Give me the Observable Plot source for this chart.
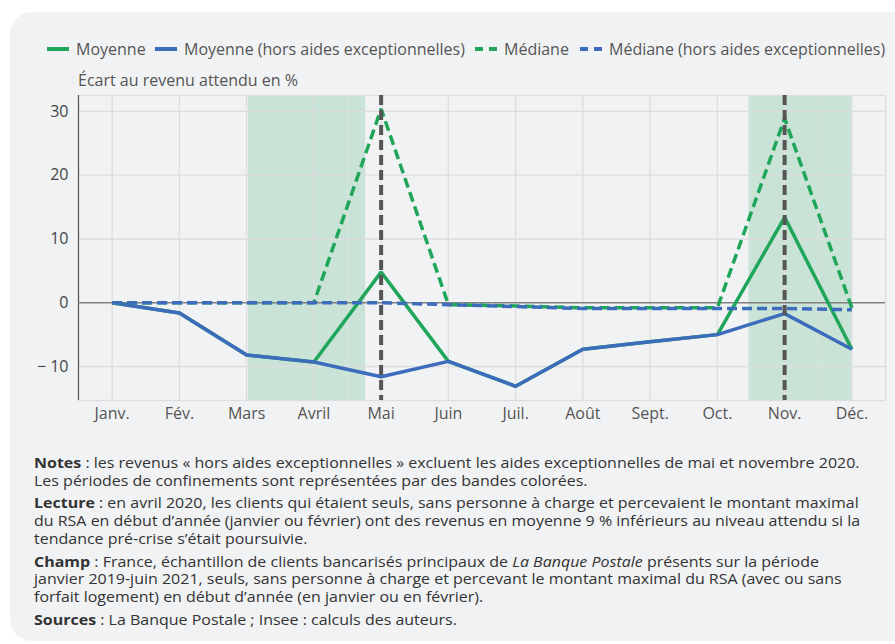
<!DOCTYPE html>
<html><head><meta charset="utf-8">
<script src="https://cdn.jsdelivr.net/npm/d3@7"></script>
<script src="https://cdn.jsdelivr.net/npm/@observablehq/plot@0.6"></script>
<style>
body{margin:0;background:#fff;font-family:"Open Sans",sans-serif;width:895px;height:644px;overflow:hidden;position:relative}
#panel{position:absolute;left:10px;top:12px;width:920px;height:629px;background:#f1f2f4;border-radius:22px}
.leg{position:absolute;top:38px;font-size:16px;color:#555;white-space:nowrap;display:flex;align-items:center;height:22px}
.sw{display:inline-block;width:22px;height:0;border-top:4px solid;margin-right:7px}
.swd{display:inline-block;width:22px;height:4px;margin-right:7px}
#ytitle{position:absolute;left:78px;top:69px;font-size:16px;color:#555;white-space:nowrap}
#chart{position:absolute;left:0;top:88px}
#notes{position:absolute;left:34px;top:454px;font-size:14px;color:#333;line-height:17.9px;white-space:nowrap;transform:scaleX(1.142);transform-origin:0 0}
#notes p{margin:0 0 4.5px 0}
</style></head><body>
<div id="panel"></div>
<div id="legend"></div>
<div id="ytitle">Écart au revenu attendu en %</div>
<div id="chart"></div>
<div id="notes">
<p><b>Notes</b> : les revenus « hors aides exceptionnelles » excluent les aides exceptionnelles de mai et novembre 2020.<br>Les périodes de confinements sont représentées par des bandes colorées.</p>
<p><b>Lecture</b> : en avril 2020, les clients qui étaient seuls, sans personne à charge et percevaient le montant maximal<br>du RSA en début d’année (janvier ou février) ont des revenus en moyenne 9 % inférieurs au niveau attendu si la<br>tendance pré-crise s’était poursuivie.</p>
<p><b>Champ</b> : France, échantillon de clients bancarisés principaux de <i>La Banque Postale</i> présents sur la période<br>janvier 2019-juin 2021, seuls, sans personne à charge et percevant le montant maximal du RSA (avec ou sans<br>forfait logement) en début d’année (en janvier ou en février).</p>
<p><b>Sources</b> : La Banque Postale ; Insee : calculs des auteurs.</p>
</div>
<script>
const months = ["Janv.","Fév.","Mars","Avril","Mai","Juin","Juil.","Août","Sept.","Oct.","Nov.","Déc."];
const moyenne      = [0, -1.6, -8.2, -9.3, 4.8, -9.2, -13.1, -7.3, -6.1, -5.0, 13.4, -7.3];
const moyenneHors  = [0, -1.6, -8.2, -9.3, -11.6, -9.2, -13.1, -7.3, -6.1, -5.0, -1.7, -7.3];
const mediane      = [0, 0, 0, 0, 30.4, -0.3, -0.5, -0.8, -0.8, -0.8, 28.9, -0.8];
const medianeHors  = [0, 0, 0, 0, 0, -0.3, -0.6, -0.9, -0.9, -0.9, -0.9, -1.1];
const confinements = [{start: 2.03, end: 3.77}, {start: 9.47, end: 11.0}];
const aidesMonths = [4, 10];
const yTicks = [-10, 0, 10, 20, 30];

const GREEN = "#1fa65a", BLUE = "#3c6cbb";
const series = [
  {name: "Moyenne", values: moyenne, color: GREEN, dash: null},
  {name: "Moyenne (hors aides exceptionnelles)", values: moyenneHors, color: BLUE, dash: null},
  {name: "Médiane", values: mediane, color: GREEN, dash: "10,5"},
  {name: "Médiane (hors aides exceptionnelles)", values: medianeHors, color: BLUE, dash: "10,5"}
];
const rows = s => s.values.map((v, i) => ({i, v}));

// legend
const legX = [47, 155, 475, 580];
const leg = document.getElementById("legend");
series.forEach((s, k) => {
  const d = document.createElement("div");
  d.className = "leg"; d.style.left = legX[k] + "px";
  const sw = document.createElement("span");
  if (s.dash) {
    sw.className = "swd";
    sw.style.background = `linear-gradient(90deg, ${s.color} 0 8px, transparent 8px 14px, ${s.color} 14px 22px)`;
  } else { sw.className = "sw"; sw.style.borderColor = s.color; }
  d.appendChild(sw);
  d.appendChild(document.createTextNode(s.name));
  leg.appendChild(d);
});

const yDom = [-15.33, 32.5];
const plot = Plot.plot({
  width: 895, height: 340,
  marginLeft: 78, marginRight: 10, marginTop: 7, marginBottom: 28,
  style: {background: "transparent", fontFamily: "Open Sans", fontSize: "16px", color: "#555", overflow: "visible"},
  x: {type: "linear", domain: [-0.5, 11.5], label: null},
  y: {domain: yDom, label: null},
  marks: [
    Plot.rect(confinements, {x1: "start", x2: "end", fill: "#c9e3d6"}),
    Plot.gridX(d3.range(12), {stroke: "#dcdddf", strokeOpacity: 1, strokeWidth: 1.3}),
    Plot.ruleX([3.5, 10.5], {stroke: "#d6e6de", strokeWidth: 1.3}),
    Plot.gridY([-10, 10, 20, 30], {stroke: "#dcdddf", strokeOpacity: 1, strokeWidth: 1.3}),
    Plot.frame({stroke: "#dcdddf", strokeWidth: 1.3}),
    Plot.ruleX([-0.5], {stroke: "#555", strokeWidth: 1.2}),
    Plot.ruleY([0], {stroke: "#808080", strokeWidth: 1.6}),
    Plot.axisX(d3.range(12), {tickSize: 0, tickPadding: 7, tickFormat: i => months[i], fontSize: 16, fill: "#555", label: null}),
    Plot.axisY(yTicks, {tickSize: 0, tickPadding: 10, tickFormat: d => d < 0 ? "− " + Math.abs(d) : String(d), fontSize: 16, fill: "#444", label: null}),
    ...series.map(s => Plot.line(rows(s), {x: "i", y: "v", stroke: s.color, strokeWidth: 3.5, strokeDasharray: s.dash, strokeLinejoin: "miter", strokeLinecap: "butt"})),
    Plot.ruleX(aidesMonths, {stroke: "#555", strokeWidth: 4, strokeDasharray: "10,5"})
  ]
});
document.getElementById("chart").appendChild(plot);
</script>
</body></html>
